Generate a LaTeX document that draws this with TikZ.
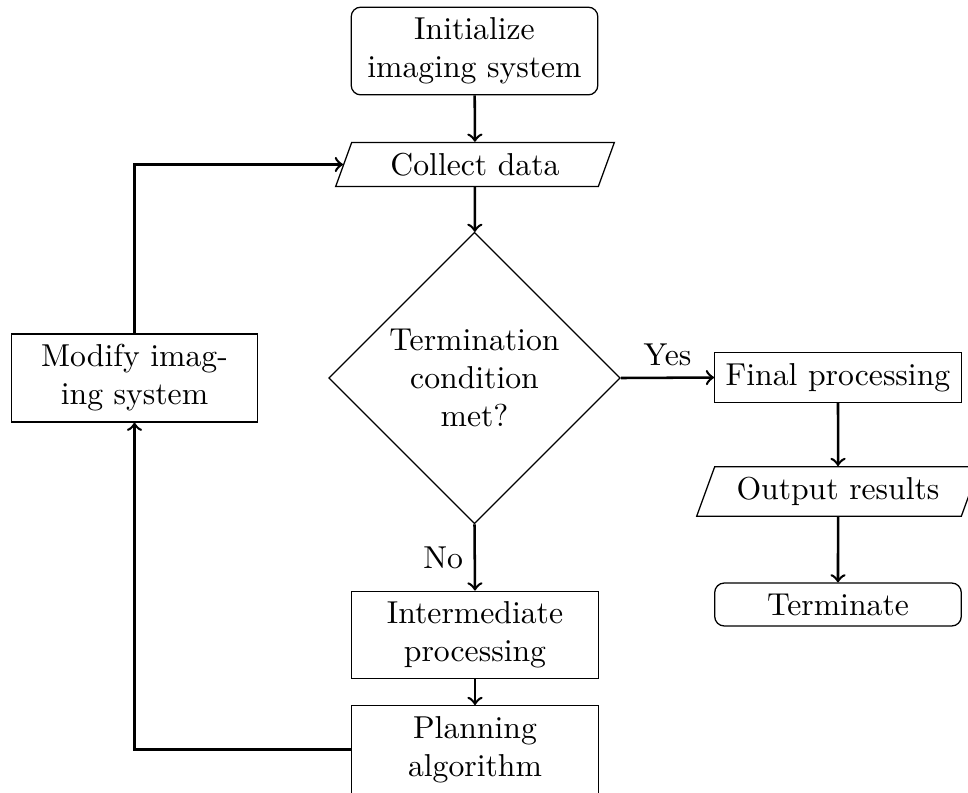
\documentclass[tikz,border=0pt]{standalone}
\usetikzlibrary{shapes.geometric}
\begin{document}
\begin{tikzpicture}[x=0.3155pt,y=-0.3155pt,
  base/.style={draw, text width=2.5cm, align=center},
  procbox/.style={base, rectangle},
  termbox/.style={base, rectangle, rounded corners=3pt},
  iobox/.style={base, trapezium, trapezium left angle=70, trapezium right angle=110},
  decbox/.style={draw, diamond, aspect=1, text width=2cm, inner sep=0pt,
                 minimum width=92pt, minimum height=92pt, align=center},
  flow/.style={->, thick}]
\useasboundingbox (0,0) rectangle (968,792);
\clip (0,0) rectangle (968,792);

\node[termbox] (init) at (474.5,51) {Initialize\\imaging system};
\node[iobox] (collect) at (475,164.5) {Collect data};
\node[decbox] (dec) at (474.5,378) {Termination\\condition\\met?};
\node[procbox] (final) at (838,377.5) {Final processing};
\node[iobox] (output) at (838,491.5) {Output results};
\node[termbox] (term) at (838,604.5) {Terminate};
\node[procbox] (inter) at (475,635) {Intermediate\\processing};
\node[procbox] (plan) at (475,749.5) {Planning\\algorithm};
\node[procbox] (modify) at (134.5,378) {Modify imag-\\ing system};

\draw[flow] (init) -- (collect);
\draw[flow] (collect) -- (dec);
\draw[flow] (dec.east) -- node[above] {Yes} (final.west);
\draw[flow] (final) -- (output);
\draw[flow] (output) -- (term);
\draw[flow] (dec.south) -- node[left] {No} (inter.north);
\draw[flow] (inter) -- (plan);
\draw[flow] (plan.west) -| (modify.south);
\draw[flow] (modify.north) |- (collect.west);
\end{tikzpicture}
\end{document}
